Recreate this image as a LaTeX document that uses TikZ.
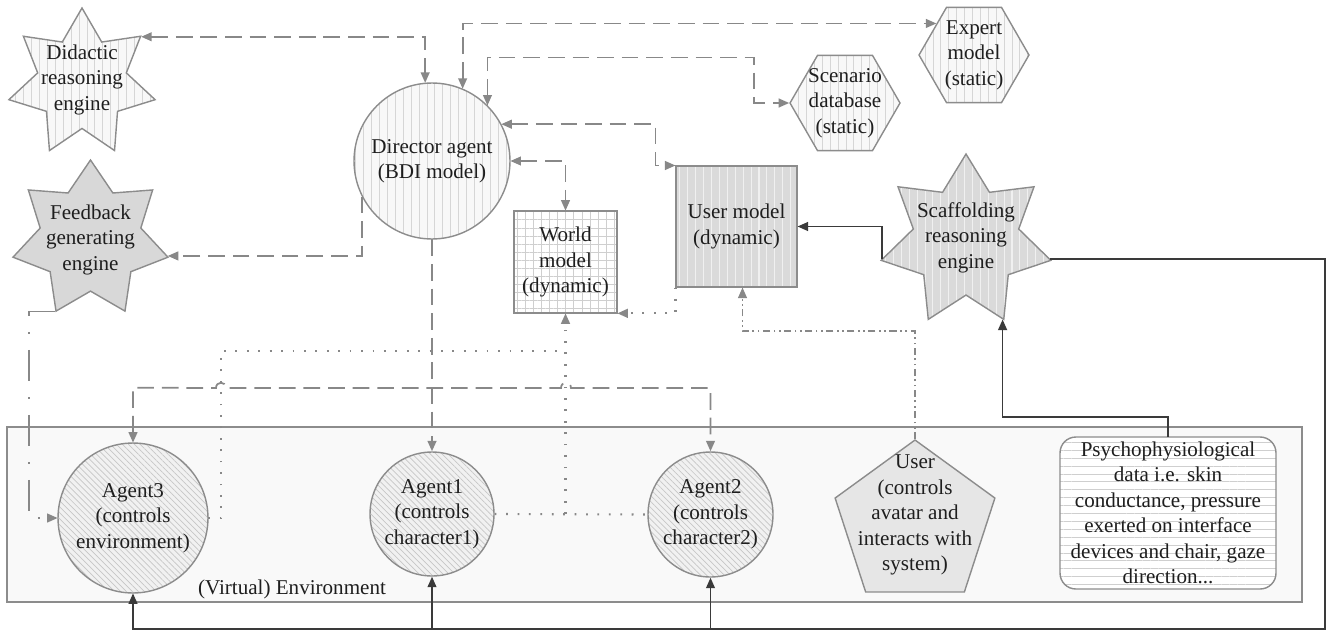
\documentclass[tikz,border=0pt]{standalone}
\usepackage{fontspec}
\setmainfont{Liberation Serif}
\usepackage{xcolor}
\definecolor{rim}{HTML}{8C8C8C}
\definecolor{wire}{HTML}{888888}
\definecolor{ink}{HTML}{3A3A3A}
\definecolor{textcol}{HTML}{1E1E1E}
\definecolor{envbg}{HTML}{F9F9F9}
\definecolor{pale}{HTML}{F8F8F8}
\definecolor{paleline}{HTML}{D6D6D6}
\definecolor{mid}{HTML}{DADADA}
\definecolor{midline}{HTML}{F0F0F0}
\definecolor{fbfill}{HTML}{D8D8D8}
\definecolor{agentbg}{HTML}{F1F1F1}
\definecolor{agentline}{HTML}{C6C6C6}
\definecolor{userbg}{HTML}{E6E6E6}
\definecolor{gridline}{HTML}{CFCFCF}
\usepackage{tikz}
\usetikzlibrary{arrows.meta, positioning, shapes.geometric, calc, patterns.meta}

\begin{document}
\begin{tikzpicture}[x=0.02cm, y=-0.02cm,
    every node/.style={font=\fontsize{12}{14.5}\selectfont, text=textcol, align=center, inner sep=0pt},
    part/.style={draw=rim, line width=0.8pt},
    paleshade/.style={preaction={fill=pale}, pattern={Lines[angle=90,distance=4.5pt,line width=0.5pt]}, pattern color=paleline},
    midshade/.style={preaction={fill=mid}, pattern={Lines[angle=90,distance=4.5pt,line width=0.6pt]}, pattern color=midline},
    agentshade/.style={preaction={fill=agentbg}, pattern={Lines[angle=-45,distance=2.4pt,line width=0.4pt]}, pattern color=agentline},
    engine/.style={part, star, star points=7},
    hexa/.style={part, paleshade, regular polygon, regular polygon sides=6, minimum size=2.2cm},
    agent/.style={part, agentshade, circle},
    >={Triangle[length=6pt,width=5pt]},
    link/.style={draw=wire, line width=1pt, dash pattern=on 9.5pt off 4.5pt},
    dotlink/.style={draw=wire, line width=1.2pt, dash pattern=on 1pt off 5.5pt},
    dashdots/.style={draw=wire, line width=1pt, dash pattern=on 4pt off 2pt on 1pt off 2pt on 1pt off 2pt},
    longdot/.style={draw=wire, line width=1pt, dash pattern=on 18pt off 9pt on 1pt off 9pt},
    wirebold/.style={draw=ink, line width=1pt}]
  \useasboundingbox (0,0) rectangle (1327,632);

  % Virtual environment
  \node[part, fill=envbg, minimum width=25.9cm, minimum height=3.5cm] (env) at (654.5,514.5) {};
  \node (envname) at (292,589) {(Virtual) Environment};

  % Director and models
  \node[part, paleshade, circle, minimum size=3.12cm] (dir) at (432,161) {Director agent\\(BDI model)};
  \node[part, preaction={fill=white}, pattern={Hatch[angle=0,distance=4.6pt,line width=0.4pt]}, pattern color=gridline,
        minimum width=2.06cm, minimum height=2.04cm] (wm) at (565.5,262) {World\\model\\(dynamic)};
  \node[part, midshade, minimum size=2.42cm] (um) at (736.5,226.5) {User model\\(dynamic)};
  \node[hexa, label=center:{Expert\\model\\(static)}] (exp) at (974,55) {};
  \node[hexa, label=center:{Scenario\\database\\(static)}] (scn) at (845,103) {};

  % Reasoning engines
  \node[engine, paleshade, minimum size=3cm, star point ratio=1.65,
        label={[yshift=2pt]center:Didactic\\reasoning\\engine}] (did) at (82,83) {};
  \node[engine, fill=fbfill, minimum size=3.18cm, star point ratio=1.54,
        label=center:{Feedback\\generating\\engine}] (fb) at (90.5,239.5) {};
  \node[engine, midshade, minimum size=3.48cm, star point ratio=1.61,
        label={[yshift=2pt]center:Scaffolding\\reasoning\\engine}] (scf) at (966,241) {};

  % Agents, user and sensor data
  \node[agent, minimum size=3cm] (a3) at (133,518) {Agent3\\(controls\\environment)};
  \node[agent, minimum size=2.48cm] (a1) at (432,514) {Agent1\\(controls\\character1)};
  \node[agent, minimum size=2.5cm] (a2) at (710.5,514.5) {Agent2\\(controls\\character2)};
  \node[part, fill=userbg, regular polygon, regular polygon sides=5, minimum size=3.36cm,
        label={[yshift=5pt]center:User\\(controls\\avatar and\\interacts with\\system)}] (usr) at (915,524) {};
  \node[part, rounded corners=9pt, preaction={fill=white}, pattern={Lines[angle=0,distance=4.5pt,line width=0.4pt]}, pattern color=gridline,
        minimum width=4.32cm, minimum height=3.04cm] (psy) at (1168,513)
        {Psychophysiological\\data i.e. skin\\conductance, pressure\\exerted on interface\\devices and chair, gaze\\direction...};

  % Director links
  \draw[link, <->] (did.38.57) -| (dir.95);
  \draw[link, <->] (dir.67) |- (exp.140);
  \draw[link, <->] (dir.45) -- ++(0,-48) -| ($(scn.west)+(-35,0)$) -- (scn.west);
  \draw[link, <->] (dir.28) -| ($(um.north west)+(-20,0)$) -- (um.north west);
  \draw[link, <->] (dir.east) -| (wm.north);
  \draw[link, ->] (dir.207.5) |- (fb.-12.86);
  \draw[link, ->, line width=1.2pt] (dir.south) -- (a1.north);
  \draw[link, <->] (a3.north) -- ++(0,-55) -- (216,388)
    .. controls (216,381) and (226,381) .. (226,388) -- (561,388)
    .. controls (561,381) and (571,381) .. (571,388) -| (a2.north);

  % World model inputs
  \draw[dotlink] (a1.east) -- (a2.west);
  \draw[dotlink, ->] (a1.east -| wm.south) -- (wm.south);
  \draw[dotlink] (a3.east) -- ++(13,0) |- (566,351);
  \draw[dotlink, ->] (um.south west) |- (wm.south east);

  % User and feedback
  \draw[dashdots, ->] (usr.north) -- ++(0,-108) -| ($(um.south)+(6,0)$);
  \draw[longdot, ->] (fb.244.29) -| ($(a3.west)+(-29,0)$) -- (a3.west);

  % Scaffolding links
  \coordinate (bus) at (1325,629);
  \draw[wirebold, ->] (scf.-12.86) -| (bus) -| (a3.south);
  \draw[wirebold, ->] (a1.south |- bus) -- (a1.south);
  \draw[wirebold, ->] (a2.south |- bus) -- (a2.south);
  \draw[wirebold, ->] (scf.192.86) |- (um.east);
  \draw[wirebold, ->] (psy.north) -- ++(0,-20) -| (scf.295.71);
\end{tikzpicture}
\end{document}
